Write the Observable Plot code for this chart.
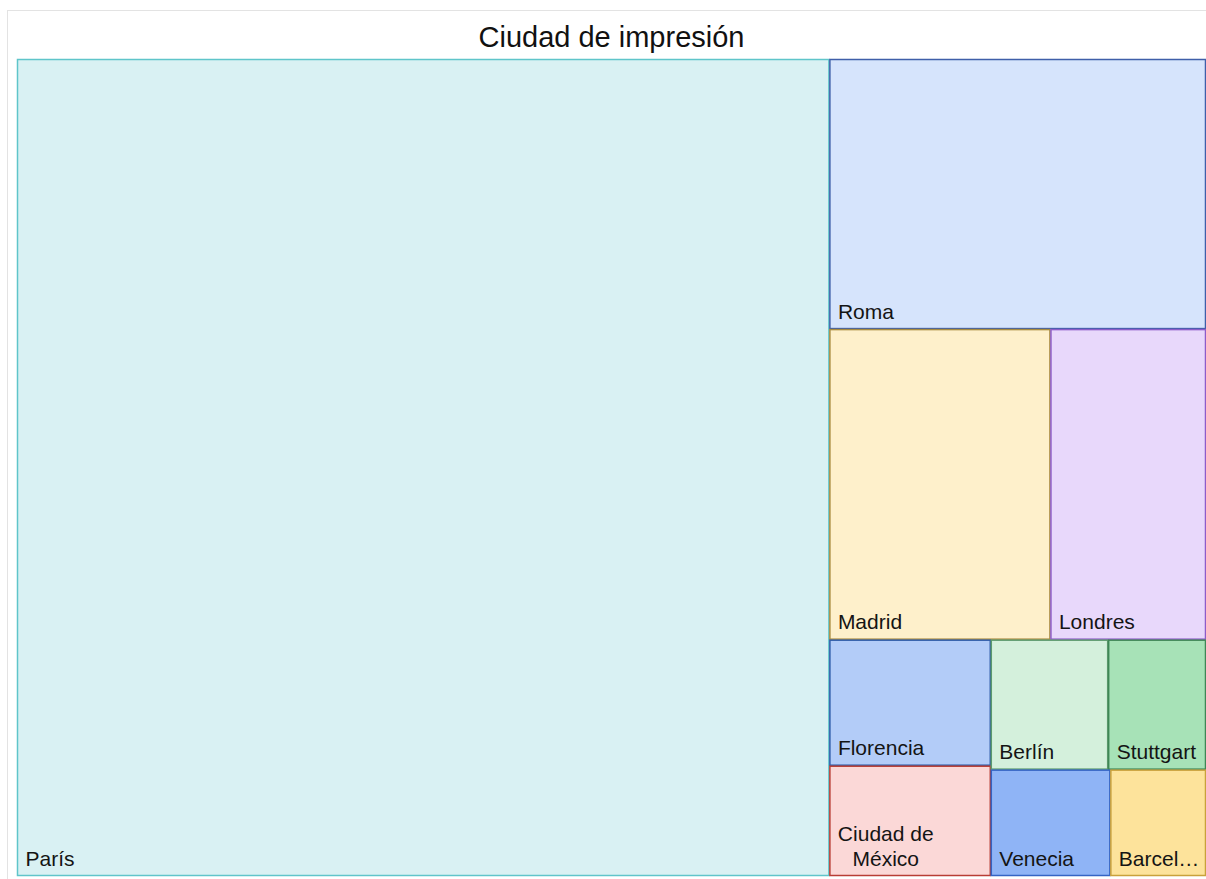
<!DOCTYPE html>
<html>
<head>
<meta charset="utf-8">
<script src="https://cdn.jsdelivr.net/npm/d3@7"></script>
<script src="https://cdn.jsdelivr.net/npm/@observablehq/plot@0.6"></script>
<style>
  html, body { margin: 0; padding: 0; background: #ffffff; overflow: hidden; }
  body { width: 1206px; height: 879px; position: relative; font-family: "Liberation Sans", Arial, sans-serif; }
  #frame { position: absolute; left: 7px; top: 10px; width: 1240px; height: 900px; border: 1px solid #e3e3e3; box-sizing: border-box; }
  #title { position: absolute; left: 17px; width: 1189px; top: 22px; height: 30px; line-height: 30px; text-align: center; font-size: 29px; color: #111; }
  #chart { position: absolute; left: 0; top: 49px; }
</style>
</head>
<body>
<div id="frame"></div>
<div id="title">Ciudad de impresión</div>
<div id="chart"></div>
<script>
// ---- data ----
const cities = ["París", "Roma", "Madrid", "Londres", "Florencia", "Ciudad de México", "Berlín", "Stuttgart", "Venecia", "Barcelona"];
const counts = [261, 40, 27, 19, 8, 7, 6, 5, 5, 4];

// ---- styles (palette per city, same order) ----
const fills   = ["#d9f1f3", "#d6e4fc", "#fef0cb", "#e8d8fb", "#b3ccf8", "#fbd8d7", "#d4f0dc", "#a7e2b7", "#8fb4f6", "#fde39b"];
const strokes = ["#5fc5ca", "#3f5fa9", "#a98b3f", "#8d5cc8", "#2f5ca8", "#b83d35", "#5c9a6d", "#3f8656", "#3464c4", "#c9a13b"];

const W = 1189, H = 817;           // treemap area in pixels
const FONT = "Liberation Sans, Arial, sans-serif";
const FS = 21;

const table = cities.map((name, i) => ({name, value: counts[i], i}));
const root = d3.hierarchy({children: table})
  .sum(d => d.value || 0)
  .sort((a, b) => b.value - a.value);
d3.treemap().size([W, H]).tile(d3.treemapSquarify.ratio(1)).round(false)(root);
const leaves = root.leaves();

// label wrapping / truncation using real font metrics
const ctx = document.createElement("canvas").getContext("2d");
ctx.font = `${FS}px "Liberation Sans", Arial, sans-serif`;
const mw = s => ctx.measureText(s).width;
function labelLines(name, avail) {
  const words = name.split(" ");
  const lines = [];
  let cur = "";
  for (const w of words) {
    const t = cur ? cur + " " + w : w;
    if (!cur || mw(t) <= avail) cur = t;
    else { lines.push(cur); cur = w; }
  }
  if (cur) lines.push(cur);
  return lines.map(l => {
    if (mw(l) <= avail) return l;
    let p = l;
    while (p.length > 1 && mw(p + "…") > avail) p = p.slice(0, -1);
    return p + "…";
  });
}

const textMarks = leaves.map(d => {
  const w = d.x1 - d.x0;
  const lines = labelLines(d.data.name, w - 14);
  const multi = lines.length > 1;
  const maxW = Math.max(...lines.map(mw));
  return Plot.text([d], {
    x: n => n.x0,
    y: n => n.y1,
    text: () => lines.join("\n"),
    dx: multi ? 8 + maxW / 2 : 8,
    dy: -11,
    textAnchor: multi ? "middle" : "start",
    lineAnchor: "bottom",
    lineHeight: 1.19,
    fontSize: FS,
    fontFamily: FONT,
    fill: "#141414"
  });
});

const chart = Plot.plot({
  width: 1206,
  height: 830,
  marginLeft: 17,
  marginRight: 0,
  marginTop: 10,
  marginBottom: 3,
  x: {domain: [0, W], range: [17, 1206], axis: null},
  y: {domain: [0, H], range: [10, 10 + H], axis: null},
  color: {type: "identity"},
  style: {fontFamily: FONT, background: "transparent"},
  marks: [
    Plot.rect(leaves, {
      x1: d => d.x0, x2: d => d.x1, y1: d => d.y0, y2: d => d.y1,
      fill: d => fills[d.data.i],
      stroke: d => strokes[d.data.i],
      strokeWidth: 1.5,
      inset: 0.5
    }),
    ...textMarks
  ]
});
document.getElementById("chart").appendChild(chart);
</script>
</body>
</html>
